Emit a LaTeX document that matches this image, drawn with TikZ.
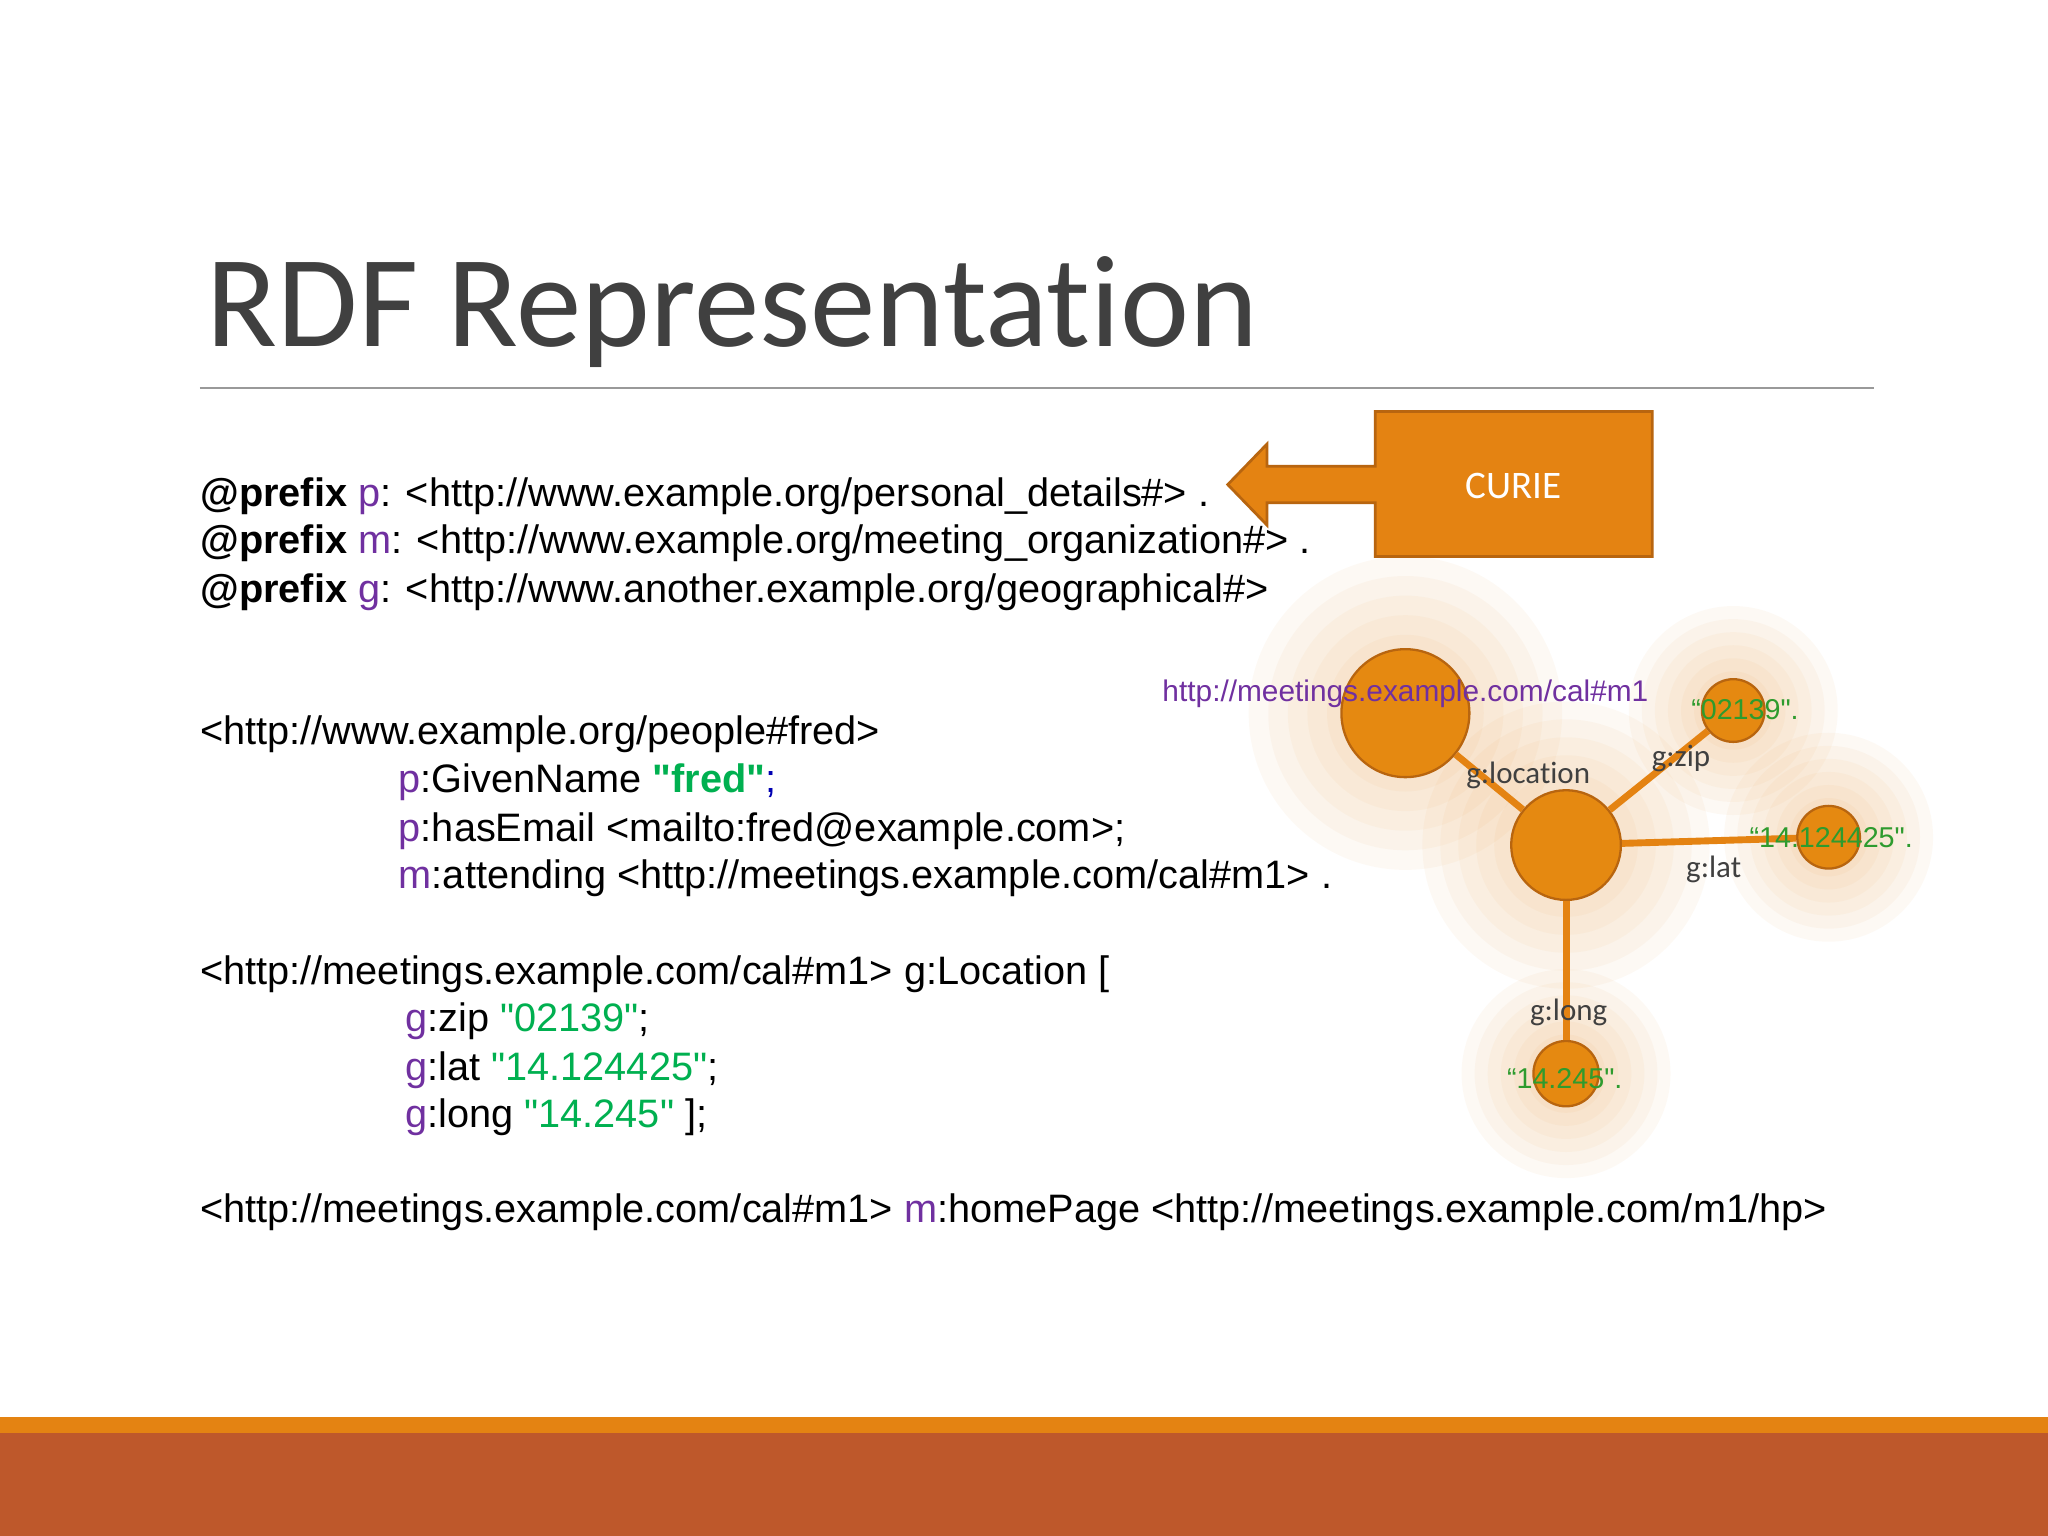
\documentclass[tikz,border=0pt]{standalone}
\usepackage{fontspec}
\setmainfont{Liberation Sans}
\newfontfamily\calfont[Ligatures=NoCommon]{Carlito}
\definecolor{pur}{HTML}{7030A0}
\definecolor{grn}{HTML}{00B050}
\definecolor{dgrn}{HTML}{2E9B2E}
\definecolor{org}{HTML}{E48312}
\definecolor{orgd}{HTML}{B8650F}
\definecolor{rust}{HTML}{BE582B}
\definecolor{tgray}{HTML}{404040}
\newcommand{\pfx}{\textbf{@prefix}}
\newcommand{\q}{\textquotedbl}
\begin{document}
\begin{tikzpicture}[x=0.02cm,y=-0.02cm,
 code/.style={anchor=base west,inner sep=0,font=\fontsize{17.3}{20}\selectfont},
 gn/.style={circle,draw=orgd,fill=org!95!yellow,line width=1pt,inner sep=0},
 ge/.style={draw=org,line width=3pt},
 el/.style={font=\calfont\fontsize{13.5}{15}\selectfont,text=tgray,inner sep=0},
 vl/.style={font=\fontsize{12.5}{14}\selectfont,text=dgrn,inner sep=0}]
\useasboundingbox (0,0) rectangle (1568,1176);
\fill[white] (0,0) rectangle (1568,1176);
% glows
\foreach \cx/\cy/\r in {1076/546/120,1199/647/110,1327/544/80,1400/641/80,1199/822/80}{
 \foreach \k in {1,...,8}{
  \fill[org,opacity=0.045] (\cx,\cy) circle ({\r*\k/8});}}
\node[anchor=base west,inner sep=0,text=tgray,font=\calfont\fontsize{57}{60}\selectfont] (title) at (158,265) {RDF Representation};
\draw[gray!80,line width=0.8pt] (153,297) -- (1435,297);
\node[code] (l1) at (153,388) {\pfx{} \textcolor{pur}{p}: <http://www.example.org/personal\_details\#> .};
\node[code] (l2) at (153,424) {\pfx{} \textcolor{pur}{m}: <http://www.example.org/meeting\_organization\#> .};
\node[code] (l3) at (153,461) {\pfx{} \textcolor{pur}{g}: <http://www.another.example.org/geographical\#>};
\node[code] (l4) at (153,570) {<http://www.example.org/people\#fred>};
\node[code] (l5) at (305,607) {\textcolor{pur}{p}:GivenName \textcolor{grn}{\textbf{\q fred\q}}\textcolor{blue!70!black}{;}};
\node[code] (l6) at (305,644) {\textcolor{pur}{p}:hasEmail <mailto:fred@example.com>;};
\node[code] (l7) at (305,680) {\textcolor{pur}{m}:attending <http://meetings.example.com/cal\#m1> .};
\node[code] (l8) at (153,754) {<http://meetings.example.com/cal\#m1> g:Location [};
\node[code] (l9) at (310,790) {\textcolor{pur}{g}:zip \textcolor{grn}{\q 02139\q};};
\node[code] (l10) at (310,827) {\textcolor{pur}{g}:lat \textcolor{grn}{\q 14.124425\q};};
\node[code] (l11) at (310,863) {\textcolor{pur}{g}:long \textcolor{grn}{\q 14.245\q} ];};
\node[code] (l12) at (153,936) {<http://meetings.example.com/cal\#m1> \textcolor{pur}{m}:homePage <http://meetings.example.com/m1/hp>};
% CURIE callout
\draw[fill=org,draw=orgd,line width=1.2pt] (1053,315) -- (1265,315) -- (1265,426) -- (1053,426) -- (1053,385) -- (970,385) -- (970,402) -- (940,371) -- (970,340) -- (970,357) -- (1053,357) -- cycle;
\node[text=white,font=\calfont\fontsize{17}{20}\selectfont] (curie) at (1159,372) {CURIE};
% graph
\node[gn,minimum size=1.96cm] (m1) at (1076,546) {};
\node[gn,minimum size=1.68cm] (loc) at (1199,647) {};
\node[gn,minimum size=0.96cm] (zip) at (1327,544) {};
\node[gn,minimum size=0.96cm] (lat) at (1400,641) {};
\node[gn,minimum size=1cm] (long) at (1199,822) {};
\draw[ge] (m1) -- (loc);
\draw[ge] (loc) -- (zip);
\draw[ge] (loc) -- (lat);
\draw[ge] (loc) -- (long);
\node[text=pur,font=\fontsize{13}{14}\selectfont,inner sep=0] (m1l) at (1076,531) {http://meetings.example.com/cal\#m1};
\node[el] (e1) at (1170,594) {g:location};
\node[el] (e2) at (1287,581) {g:zip};
\node[el] (e3) at (1312,666) {g:lat};
\node[el] (e4) at (1201,775) {g:long};
\node[vl] (v1) at (1336,543) {“02139\q.};
\node[vl] (v2) at (1402,641) {“14.124425\q.};
\node[vl] (v3) at (1198,826) {“14.245\q.};
% bottom bars
\fill[org] (0,1085) rectangle (1568,1097);
\fill[rust] (0,1097) rectangle (1568,1176);
\end{tikzpicture}
\end{document}
